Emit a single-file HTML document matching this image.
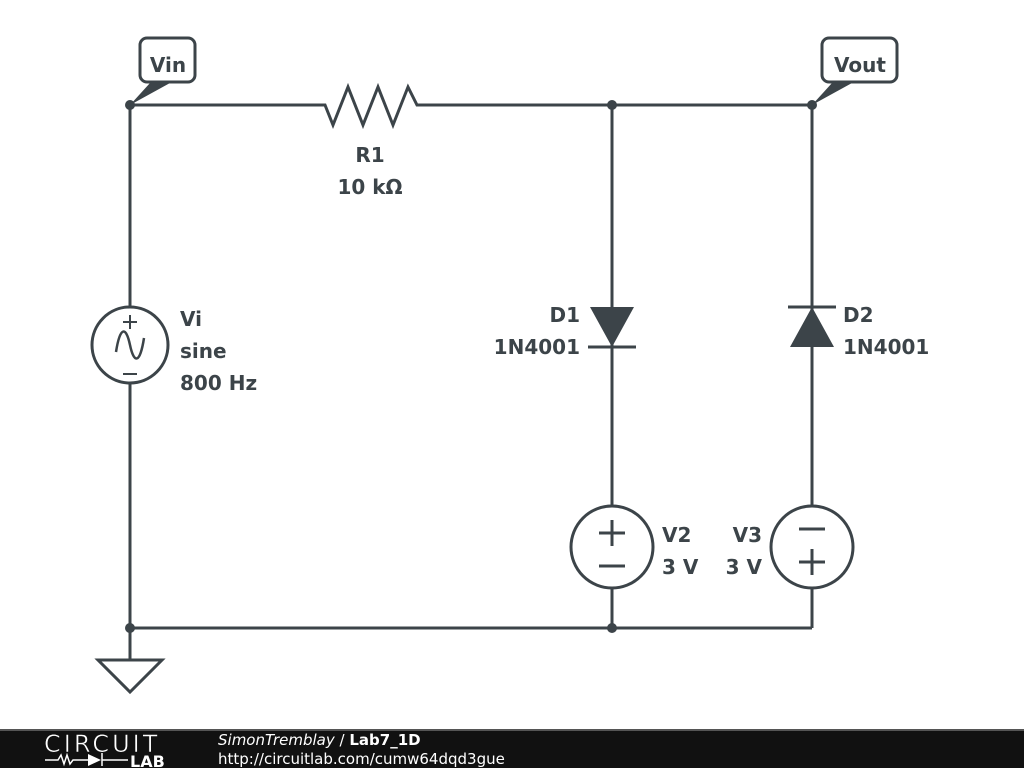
<!DOCTYPE html>
<html><head><meta charset="utf-8"><style>
html,body{margin:0;padding:0;background:#fff;width:1024px;height:768px;overflow:hidden}
svg{display:block}
text{font-family:"DejaVu Sans","Liberation Sans",sans-serif;font-weight:bold;font-size:20px;fill:#3c4449}
</style></head><body>
<svg width="1024" height="768" viewBox="0 0 1024 768">
<g stroke="#3c4449" stroke-width="3" fill="none">
<polyline points="130,105 325,105 333,125 348,87 363,125 378,87 393,125 408,87 417,105 812,105"/>
<line x1="130" y1="105" x2="130" y2="307"/>
<line x1="130" y1="383" x2="130" y2="660"/>
<line x1="130" y1="628" x2="812" y2="628"/>
<line x1="612" y1="105" x2="612" y2="507"/>
<line x1="612" y1="588" x2="612" y2="628"/>
<line x1="812" y1="105" x2="812" y2="507"/>
<line x1="812" y1="588" x2="812" y2="628"/>
<circle cx="130" cy="345" r="38"/>
<circle cx="612" cy="547" r="41"/>
<circle cx="812" cy="547" r="41"/>
<line x1="588" y1="347" x2="636" y2="347"/>
<line x1="788" y1="307" x2="836" y2="307"/>
<polygon points="98,660 162,660 130,692"/>
<path d="M116,352 C120,326 126,326 130,345 C134,364 140,364 144,338" stroke-width="2.5"/>
<line x1="123" y1="322" x2="137" y2="322" stroke-width="2"/><line x1="130" y1="315" x2="130" y2="329" stroke-width="2"/>
<line x1="123" y1="374" x2="137" y2="374" stroke-width="2"/>
<line x1="599" y1="533" x2="625" y2="533"/><line x1="612" y1="520" x2="612" y2="546"/>
<line x1="599" y1="566" x2="625" y2="566"/>
<line x1="799" y1="529" x2="825" y2="529"/>
<line x1="799" y1="562" x2="825" y2="562"/><line x1="812" y1="549" x2="812" y2="575"/>
<rect x="140" y="38" width="55" height="44" rx="7" fill="#fff"/>
<rect x="822" y="38" width="75" height="44" rx="7" fill="#fff"/>
</g>
<g fill="#3c4449">
<polygon points="590,307 634,307 612,347"/>
<polygon points="790,347 834,347 812,307"/>
<polygon points="130,105 150,83 170,83"/>
<polygon points="812,105 832,83 852,83"/>
<circle cx="130" cy="105" r="5"/><circle cx="612" cy="105" r="5"/><circle cx="812" cy="105" r="5"/>
<circle cx="130" cy="628" r="5"/><circle cx="612" cy="628" r="5"/>
</g>
<text x="168" y="72" text-anchor="middle">Vin</text>
<text x="860" y="72" text-anchor="middle">Vout</text>
<text x="370" y="162" text-anchor="middle">R1</text>
<text x="370" y="194" text-anchor="middle">10 kΩ</text>
<text x="180" y="326">Vi</text>
<text x="180" y="358">sine</text>
<text x="180" y="390">800 Hz</text>
<text x="580" y="322" text-anchor="end">D1</text>
<text x="580" y="354" text-anchor="end">1N4001</text>
<text x="843" y="322">D2</text>
<text x="843" y="354">1N4001</text>
<text x="662" y="542">V2</text>
<text x="662" y="574">3 V</text>
<text x="762" y="542" text-anchor="end">V3</text>
<text x="762" y="574" text-anchor="end">3 V</text>
<rect x="0" y="729" width="1024" height="39" fill="#111"/>
<rect x="0" y="729" width="1024" height="2" fill="#555"/>
<text x="44" y="752" style="font-weight:normal;font-size:24px;fill:#fff;letter-spacing:3px;stroke:#111;stroke-width:0.6">CIRCUIT</text>
<g stroke="#fff" stroke-width="1.5" fill="none"><polyline points="45,760 58,760 61,755 64,764 67,755 70,764 73,760 80,760 95,760"/><line x1="102" y1="753" x2="102" y2="766"/><line x1="102" y1="760" x2="128" y2="760"/></g>
<polygon points="88,754 88,766 101,760" fill="#fff"/>
<text x="130" y="767" style="font-size:16px;fill:#fff">LAB</text>
<text x="218" y="745" style="font-weight:normal;font-style:italic;font-size:15px;fill:#fff">SimonTremblay <tspan font-style="normal">/</tspan> <tspan font-weight="bold" font-style="normal">Lab7_1D</tspan></text>
<text x="218" y="764" style="font-weight:normal;font-size:15px;fill:#fff">http://circuitlab.com/cumw64dqd3gue</text>
</svg>
</body></html>
